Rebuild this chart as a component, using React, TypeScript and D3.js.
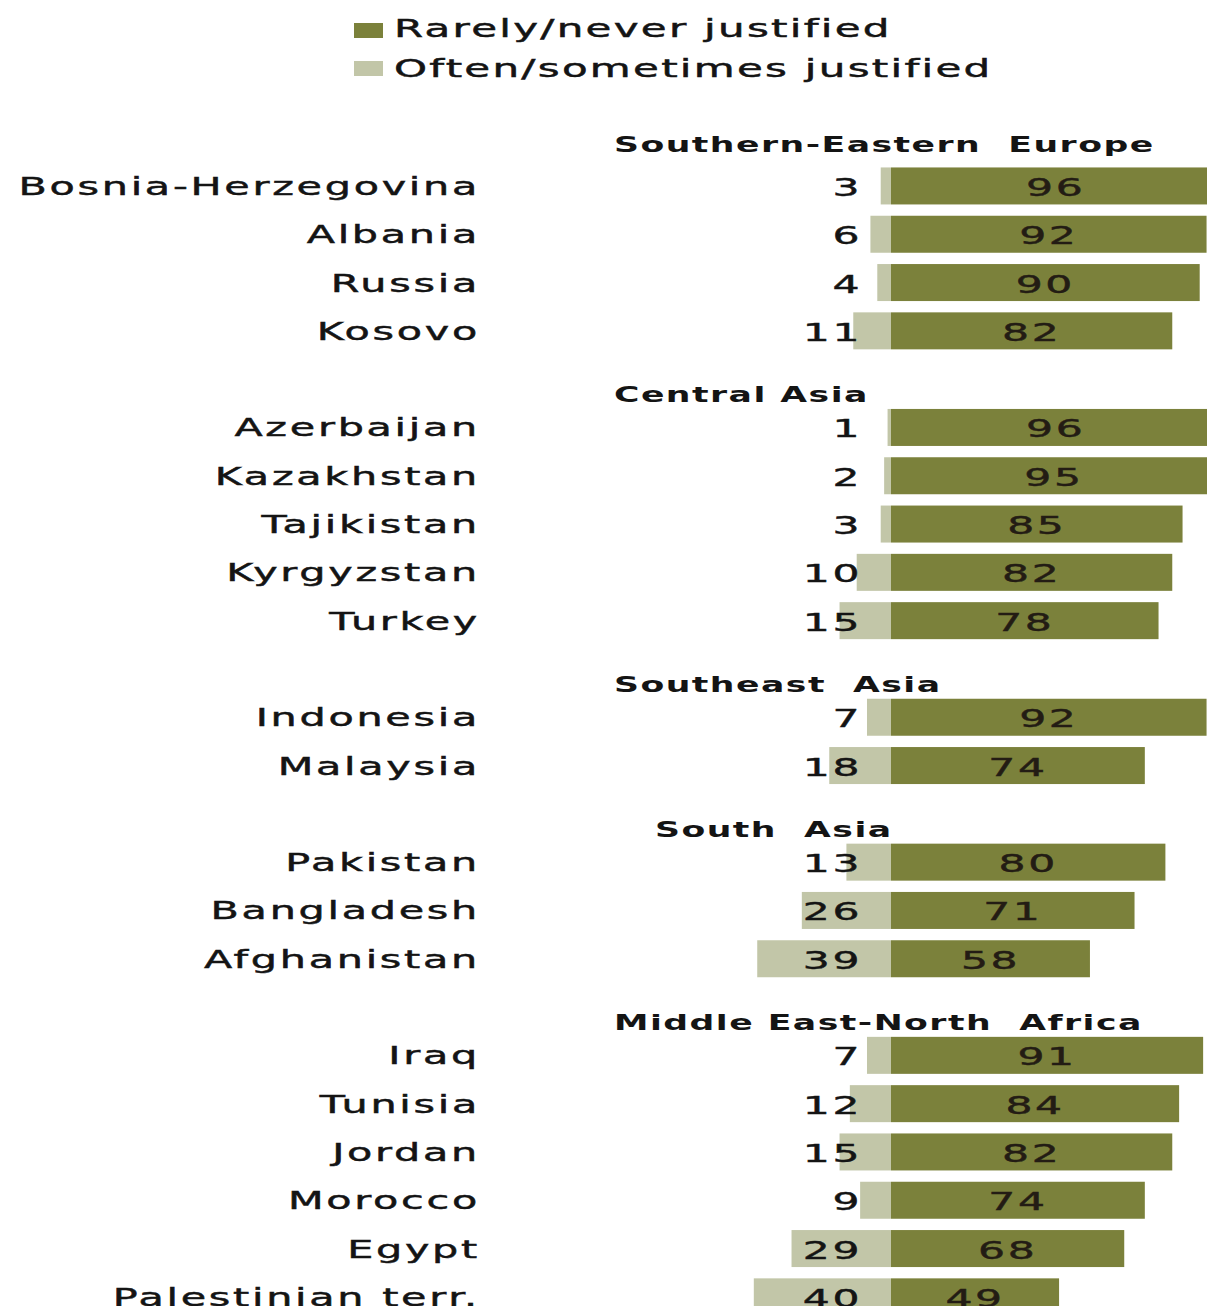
import React, { useEffect } from "react";
import * as d3 from "d3";

const regions = [
  "Southern-Eastern  Europe",
  "Central Asia",
  "Southeast  Asia",
  "South  Asia",
  "Middle East-North  Africa",
];

const countries = [
  "Bosnia-Herzegovina", "Albania", "Russia", "Kosovo",
  "Azerbaijan", "Kazakhstan", "Tajikistan", "Kyrgyzstan", "Turkey",
  "Indonesia", "Malaysia",
  "Pakistan", "Bangladesh", "Afghanistan",
  "Iraq", "Tunisia", "Jordan", "Morocco", "Egypt", "Palestinian terr.",
];

const regionOf = [0, 0, 0, 0, 1, 1, 1, 1, 1, 2, 2, 3, 3, 3, 4, 4, 4, 4, 4, 4];

const rarely = [96, 92, 90, 82, 96, 95, 85, 82, 78, 92, 74, 80, 71, 58, 91, 84, 82, 74, 68, 49];
const often = [3, 6, 4, 11, 1, 2, 3, 10, 15, 7, 18, 13, 26, 39, 7, 12, 15, 9, 29, 40];

const legendLabels = ["Rarely/never justified", "Often/sometimes justified"];

const DARK = "#7b813b";
const LIGHT = "#c2c6a8";
const TEXT = "#141414";
const FONT = "'DejaVu Sans', Verdana, sans-serif";

const W = 1207;
const H = 1306;

export default function App() {
  useEffect(() => {
    document.body.style.margin = "0";
  }, []);

  type Row = { key: string; type: "header" | "country"; idx: number };
  const rows: Row[] = [];
  regions.forEach((r, ri) => {
    rows.push({ key: "h-" + ri, type: "header", idx: ri });
    countries.forEach((c, ci) => {
      if (regionOf[ci] === ri) rows.push({ key: "c-" + ci, type: "country", idx: ci });
    });
  });

  const p = 0.234;
  const y = d3
    .scaleBand<string>()
    .domain(rows.map((r) => r.key))
    .range([113.5, 113.5 + rows.length * 48.3])
    .paddingInner(p)
    .paddingOuter(p / 2);
  const bw = y.bandwidth();
  const step = y.step();

  const x0 = 891;
  const len = d3.scaleLinear().domain([0, 100]).range([0, 343]);

  const labelScale = 1.72;
  const labelLS = 1.6;
  const numScale = 1.7;
  const numLS = 1.5;
  const headScale = 1.65;
  const headLS = 0.9;
  const sw = 0.45;

  const headerX = (ri: number) => (ri === 3 ? 655 : 614);

  return (
    <svg
      width={W}
      height={H}
      style={{ display: "block", position: "absolute", left: 0, top: 0 }}
      fontFamily={FONT}
    >
      <rect x={0} y={0} width={W} height={H} fill="#fff" />
      {legendLabels.map((t, i) => (
        <g key={t}>
          <rect x={354} y={i === 0 ? 23 : 61} width={29} height={15} fill={i === 0 ? DARK : LIGHT} />
          <text
            transform={`translate(394,${i === 0 ? 37 : 77}) scale(1.75,1)`}
            fontSize={24}
            letterSpacing={1.3}
            fill={TEXT}
            stroke={TEXT}
            strokeWidth={sw}
            style={{ whiteSpace: "pre" }}
          >
            {t}
          </text>
        </g>
      ))}

      {rows.map((r) => {
        const yy = y(r.key)!;
        if (r.type === "header") {
          return (
            <text
              key={r.key}
              transform={`translate(${headerX(r.idx)},${yy + step - (r.idx === 0 ? 15 : 7)}) scale(${headScale},1)`}
              fontSize={21}
              fontWeight="bold"
              letterSpacing={headLS}
              fill={TEXT}
              style={{ whiteSpace: "pre" }}
            >
              {regions[r.idx]}
            </text>
          );
        }
        const i = r.idx;
        const cy = yy + bw / 2;
        const dw = len(rarely[i]);
        const lw = len(often[i]);
        return (
          <g key={r.key}>
            <rect x={x0 - lw} y={yy} width={lw} height={bw} fill={LIGHT} />
            <rect x={x0} y={yy} width={dw} height={bw} fill={DARK} />
            <text
              transform={`translate(480,${cy + 9}) scale(${labelScale},1)`}
              fontSize={24}
              letterSpacing={labelLS}
              textAnchor="end"
              fill={TEXT}
              stroke={TEXT}
              strokeWidth={sw}
            >
              {countries[i]}
            </text>
            <text
              transform={`translate(862,${cy + 10}) scale(${numScale},1)`}
              fontSize={25}
              letterSpacing={numLS}
              textAnchor="end"
              fill={TEXT}
              stroke={TEXT}
              strokeWidth={sw}
            >
              {often[i]}
            </text>
            <text
              transform={`translate(${x0 + dw / 2},${cy + 10}) scale(${numScale},1)`}
              fontSize={25}
              letterSpacing={numLS}
              textAnchor="middle"
              fill="#231c14"
              stroke="#231c14"
              strokeWidth={sw}
            >
              {rarely[i]}
            </text>
          </g>
        );
      })}
    </svg>
  );
}
